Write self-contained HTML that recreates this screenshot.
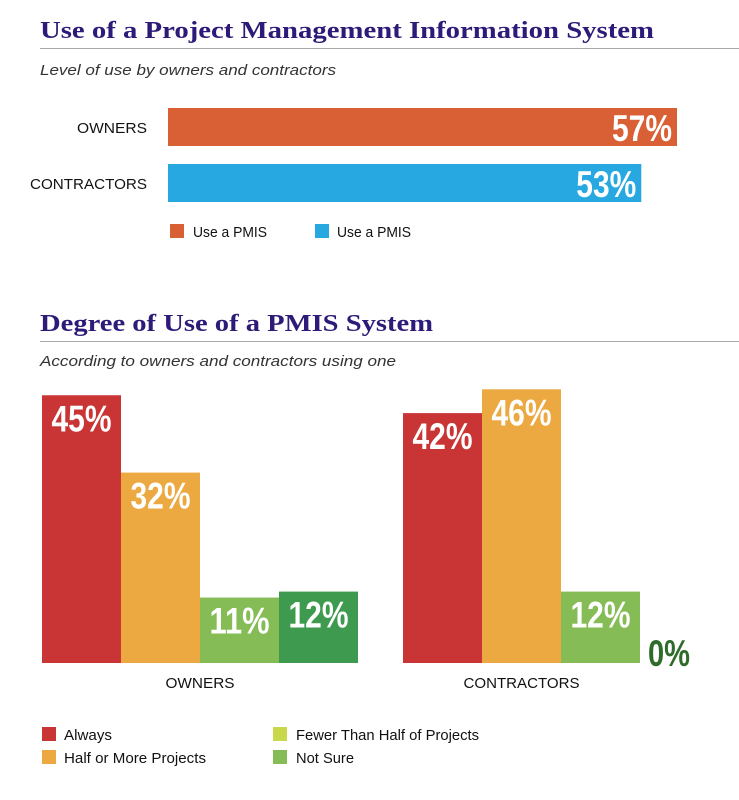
<!DOCTYPE html>
<html><head><meta charset="utf-8"><style>
html,body{margin:0;padding:0;background:#fff;}
svg{display:block;}
.t{font-family:"Liberation Serif",serif;font-weight:bold;fill:#2e1a78;font-size:24px;}
.s{font-family:"Liberation Sans",sans-serif;font-style:italic;fill:#333;font-size:15px;}
.l{font-family:"Liberation Sans",sans-serif;fill:#111;font-size:15px;}
.v{font-family:"Liberation Sans",sans-serif;font-weight:bold;fill:#fff;font-size:37px;}
</style></head><body>
<svg id="c" width="739" height="800" viewBox="0 0 739 800" xmlns="http://www.w3.org/2000/svg">
<text class="t" x="40" y="38" textLength="614" lengthAdjust="spacingAndGlyphs">Use of a Project Management Information System</text>
<line x1="40" y1="48.5" x2="739" y2="48.5" stroke="#aaa" stroke-width="1"/>
<text class="s" x="40" y="75" textLength="296" lengthAdjust="spacingAndGlyphs">Level of use by owners and contractors</text>
<g id="top"></g>
<rect x="170" y="224" width="14" height="14" fill="#d95f35"/>
<text class="l" x="193" y="237" textLength="74" lengthAdjust="spacingAndGlyphs">Use a PMIS</text>
<rect x="315" y="224" width="14" height="14" fill="#27a8e0"/>
<text class="l" x="337" y="237" textLength="74" lengthAdjust="spacingAndGlyphs">Use a PMIS</text>

<text class="t" x="40" y="331" textLength="393" lengthAdjust="spacingAndGlyphs">Degree of Use of a PMIS System</text>
<line x1="40" y1="341.5" x2="739" y2="341.5" stroke="#aaa" stroke-width="1"/>
<text class="s" x="40" y="366" textLength="356" lengthAdjust="spacingAndGlyphs">According to owners and contractors using one</text>
<g id="bot"></g>

<rect x="42" y="727" width="14" height="14" fill="#c93535"/>
<text class="l" x="64" y="740" textLength="48" lengthAdjust="spacingAndGlyphs">Always</text>
<rect x="42" y="750" width="14" height="14" fill="#eca941"/>
<text class="l" x="64" y="763" textLength="142" lengthAdjust="spacingAndGlyphs">Half or More Projects</text>
<rect x="273" y="727" width="14" height="14" fill="#c8d84a"/>
<text class="l" x="296" y="740" textLength="183" lengthAdjust="spacingAndGlyphs">Fewer Than Half of Projects</text>
<rect x="273" y="750" width="14" height="14" fill="#86bc56"/>
<text class="l" x="296" y="763" textLength="58" lengthAdjust="spacingAndGlyphs">Not Sure</text>
</svg>
<script>
const topCategories = ["OWNERS", "CONTRACTORS"];
const topValues = [57, 53];
const groups = ["OWNERS", "CONTRACTORS"];
const ownersValues = [45, 32, 11, 12];
const contractorsValues = [42, 46, 12, 0];

const NS = "http://www.w3.org/2000/svg";
function mk(tag, attrs, parent, txt) {
  const e = document.createElementNS(NS, tag);
  for (const k in attrs) e.setAttribute(k, attrs[k]);
  if (txt !== undefined) e.textContent = txt;
  parent.appendChild(e);
  return e;
}
function vw(s) { return s.length >= 3 ? 60 : 42; }
// top horizontal bars
const topG = document.getElementById("top");
const xTop = v => 168 + v * 8.93;
const topColors = ["#d95f35", "#27a8e0"];
const topY = [108, 164];
const topLabelW = [70, 117];
topCategories.forEach((c, i) => {
  const r = mk("rect", {x: 168, y: topY[i], width: xTop(topValues[i]) - 168, height: 38, fill: topColors[i]}, topG);
  
  
  const l = mk("text", {class: "l", x: 147, y: topY[i] + 25, "text-anchor": "end", textLength: topLabelW[i], lengthAdjust: "spacingAndGlyphs"}, topG, c);
  
  
  const s = topValues[i] + "%";
  const v = mk("text", {class: "v", x: xTop(topValues[i]) - 5 - vw(s), y: topY[i] + 33, textLength: vw(s), lengthAdjust: "spacingAndGlyphs"}, topG, s);
  
  
});
// bottom grouped vertical bars
const botG = document.getElementById("bot");
const base = 663;
const yBot = v => base - v * 5.95;
const colors = ["#c93535", "#eca941", "#86bc56", "#3d9a4e"];
const groupX = [42, 403];
const barW = 79;
const groupLabelW = [69, 116];
[ownersValues, contractorsValues].forEach((vals, g) => {
  vals.forEach((v, i) => {
    const x = groupX[g] + i * barW;
    const gname = groups[g].toLowerCase();
    const s = v + "%";
    if (v > 0) {
      const r = mk("rect", {x: x, y: yBot(v), width: barW, height: base - yBot(v), fill: colors[i]}, botG);
      
      
      const t = mk("text", {class: "v", x: x + (barW - vw(s)) / 2, y: yBot(v) + 36, textLength: vw(s), lengthAdjust: "spacingAndGlyphs"}, botG, s);
      
      
    } else {
      const t = mk("text", {class: "v", x: x + 8, y: base + 3, textLength: vw(s), lengthAdjust: "spacingAndGlyphs", style: "fill:#2f6b2a"}, botG, s);
      
      
    }
  });
  const cx = groupX[g] + (g === 0 ? 4 : 3) * barW / 2;
  const lab = mk("text", {class: "l", x: cx - groupLabelW[g] / 2, y: 688, textLength: groupLabelW[g], lengthAdjust: "spacingAndGlyphs"}, botG, groups[g]);
  
  
});
</script>
</body></html>
